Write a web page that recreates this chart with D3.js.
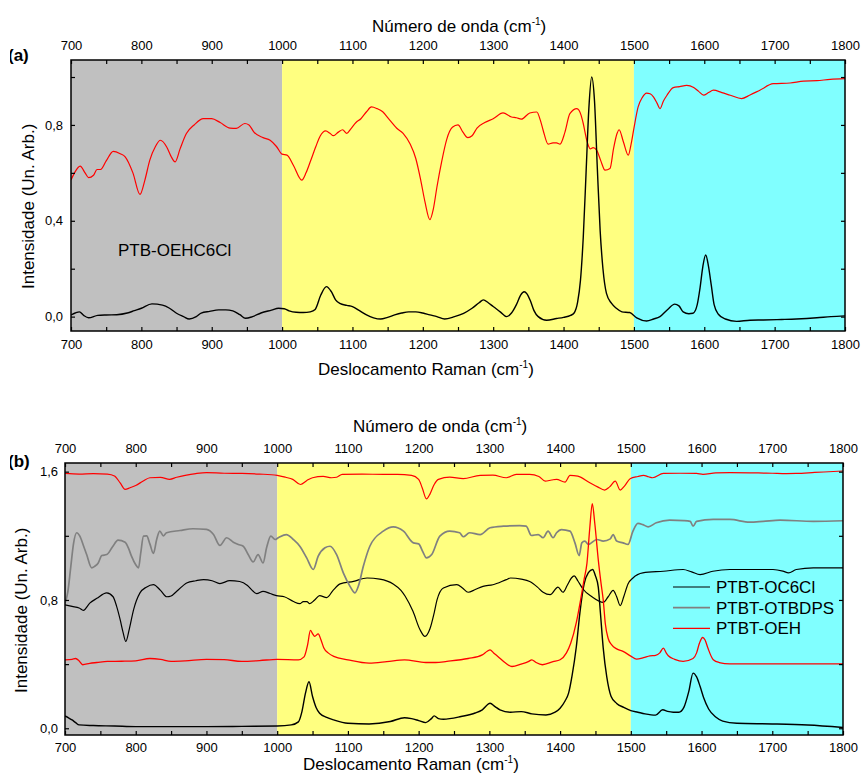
<!DOCTYPE html>
<html>
<head>
<meta charset="utf-8">
<script src="https://cdn.jsdelivr.net/npm/d3@7"></script>
<style>
  body { margin: 0; background: #fff; }
  svg { display: block; font-family: "Liberation Sans", Arial, sans-serif; }
</style>
</head>
<body>
<div id="graph"></div>
<script>
// ---- dados (número de onda, intensidade) ----

// painel (a) PTB-OEHC6Cl
var aReflexao = [[700,0.57],[705,0.60],[713,0.628],[720,0.60],[725,0.58],[732,0.59],[737,0.614],[742,0.614],[750,0.65],[760,0.69],[770,0.68],[777,0.667],[788,0.60],[798,0.51],[805,0.57],[812,0.653],[820,0.71],[827,0.736],[836,0.708],[842,0.67],[848,0.646],[855,0.70],[864,0.764],[875,0.80],[888,0.826],[900,0.826],[912,0.81],[926,0.787],[935,0.786],[947,0.806],[953,0.80],[960,0.77],[973,0.747],[983,0.736],[992,0.71],[1000,0.678],[1007,0.674],[1016,0.632],[1028,0.57],[1034,0.60],[1040,0.646],[1048,0.71],[1054,0.753],[1062,0.775],[1068,0.765],[1073,0.755],[1080,0.77],[1086,0.78],[1092,0.765],[1098,0.785],[1105,0.81],[1112,0.826],[1120,0.855],[1127,0.875],[1135,0.868],[1143,0.855],[1153,0.82],[1163,0.786],[1172,0.765],[1182,0.72],[1190,0.66],[1197,0.57],[1203,0.48],[1210,0.405],[1215,0.45],[1220,0.54],[1227,0.65],[1234,0.74],[1242,0.79],[1250,0.80],[1257,0.77],[1264,0.747],[1270,0.755],[1277,0.787],[1288,0.81],[1300,0.826],[1314,0.85],[1326,0.833],[1333,0.83],[1340,0.824],[1352,0.85],[1362,0.854],[1367,0.82],[1371,0.778],[1378,0.72],[1385,0.725],[1390,0.725],[1395,0.72],[1402,0.77],[1409,0.847],[1419,0.868],[1425,0.84],[1428,0.806],[1433,0.736],[1438,0.70],[1442,0.705],[1447,0.695],[1453,0.65],[1459,0.611],[1466,0.618],[1471,0.70],[1476,0.764],[1479,0.78],[1485,0.73],[1492,0.674],[1496,0.72],[1500,0.786],[1506,0.875],[1512,0.915],[1518,0.933],[1523,0.93],[1528,0.916],[1533,0.89],[1537,0.868],[1542,0.90],[1547,0.924],[1556,0.956],[1565,0.96],[1575,0.965],[1585,0.956],[1592,0.94],[1599,0.924],[1606,0.935],[1613,0.945],[1625,0.935],[1637,0.924],[1653,0.91],[1665,0.925],[1679,0.945],[1698,0.972],[1722,0.975],[1741,0.983],[1760,0.985],[1779,0.99],[1800,0.993]];

var aRaman = [[700,0.007],[706,0.015],[712,0.02],[718,0.005],[725,-0.005],[738,0.005],[750,0.007],[765,0.008],[780,0.015],[790,0.025],[800,0.035],[815,0.053],[830,0.048],[840,0.035],[850,0.014],[860,0.0],[868,-0.01],[878,0.0],[885,0.015],[897,0.022],[910,0.028],[920,0.028],[930,0.024],[940,0.008],[948,-0.007],[958,0.0],[970,0.015],[985,0.027],[995,0.035],[1003,0.033],[1010,0.024],[1020,0.018],[1030,0.017],[1040,0.02],[1047,0.03],[1055,0.09],[1063,0.125],[1070,0.104],[1076,0.07],[1082,0.055],[1092,0.047],[1100,0.042],[1110,0.025],[1120,0.007],[1130,-0.005],[1140,-0.01],[1150,-0.003],[1160,0.007],[1170,0.015],[1180,0.02],[1190,0.02],[1200,0.015],[1210,0.007],[1220,0.0],[1231,-0.01],[1245,0.0],[1258,0.014],[1270,0.035],[1280,0.058],[1286,0.07],[1293,0.058],[1300,0.042],[1310,0.02],[1319,0.0],[1326,0.015],[1333,0.05],[1339,0.09],[1344,0.104],[1348,0.095],[1353,0.065],[1358,0.025],[1364,0.0],[1376,-0.015],[1390,-0.008],[1400,-0.003],[1410,0.005],[1415,0.015],[1420,0.06],[1424,0.15],[1428,0.33],[1432,0.6],[1436,0.87],[1440,1.0],[1444,0.9],[1448,0.62],[1452,0.36],[1456,0.2],[1461,0.097],[1468,0.056],[1475,0.035],[1483,0.02],[1494,0.017],[1504,-0.005],[1518,-0.018],[1528,-0.01],[1537,0.0],[1548,0.03],[1558,0.052],[1564,0.045],[1570,0.02],[1578,0.012],[1584,0.014],[1590,0.05],[1594,0.12],[1598,0.21],[1602,0.257],[1606,0.21],[1610,0.13],[1614,0.05],[1620,0.01],[1630,-0.01],[1646,-0.02],[1665,-0.015],[1684,-0.014],[1710,-0.012],[1731,-0.01],[1760,-0.005],[1780,0.0],[1800,0.003]];

// painel (b)
var bOC6ClReflexao = [[700,0.77],[710,0.76],[720,0.75],[726,0.735],[735,0.78],[745,0.81],[759,0.844],[768,0.82],[773,0.76],[778,0.677],[782,0.6],[786,0.541],[791,0.62],[797,0.74],[806,0.844],[815,0.88],[825,0.896],[835,0.86],[844,0.82],[850,0.825],[858,0.854],[872,0.906],[885,0.92],[896,0.927],[908,0.92],[919,0.902],[933,0.92],[947,0.915],[958,0.89],[966,0.854],[971,0.839],[980,0.854],[990,0.84],[999,0.827],[1010,0.82],[1023,0.79],[1032,0.777],[1037,0.79],[1042,0.79],[1046,0.777],[1053,0.80],[1060,0.827],[1070,0.815],[1079,0.86],[1089,0.9],[1108,0.916],[1127,0.937],[1145,0.93],[1164,0.9],[1175,0.86],[1181,0.823],[1192,0.729],[1202,0.614],[1209,0.573],[1216,0.62],[1222,0.72],[1226,0.8],[1235,0.875],[1254,0.896],[1262,0.875],[1270,0.848],[1280,0.865],[1291,0.885],[1305,0.895],[1324,0.927],[1330,0.937],[1345,0.93],[1357,0.915],[1368,0.88],[1376,0.848],[1386,0.833],[1397,0.88],[1404,0.848],[1410,0.89],[1416,0.937],[1420,0.95],[1425,0.92],[1432,0.87],[1445,0.82],[1461,0.785],[1468,0.82],[1475,0.86],[1480,0.82],[1485,0.765],[1490,0.82],[1496,0.9],[1503,0.937],[1517,0.969],[1546,0.979],[1574,0.99],[1586,0.975],[1598,0.958],[1616,0.979],[1640,0.99],[1664,0.99],[1701,0.99],[1715,0.98],[1723,0.969],[1734,0.99],[1758,1.0],[1800,1.0]];

var bOC6ClRaman = [[700,0.077],[705,0.065],[710,0.052],[715,0.035],[720,0.021],[740,0.017],[770,0.014],[800,0.01],[850,0.01],[900,0.01],[950,0.012],[1000,0.014],[1020,0.021],[1030,0.04],[1035,0.104],[1040,0.219],[1045,0.29],[1050,0.198],[1055,0.13],[1060,0.094],[1070,0.068],[1080,0.052],[1100,0.031],[1130,0.027],[1160,0.042],[1180,0.066],[1190,0.06],[1200,0.048],[1210,0.035],[1218,0.06],[1222,0.077],[1228,0.06],[1235,0.056],[1260,0.073],[1280,0.095],[1290,0.115],[1301,0.156],[1308,0.135],[1315,0.115],[1330,0.1],[1345,0.104],[1360,0.09],[1380,0.083],[1393,0.1],[1400,0.125],[1407,0.17],[1412,0.219],[1417,0.33],[1423,0.51],[1428,0.72],[1434,0.9],[1440,0.97],[1446,0.99],[1450,0.95],[1454,0.88],[1457,0.72],[1461,0.5],[1466,0.32],[1472,0.2],[1480,0.155],[1490,0.13],[1500,0.11],[1510,0.1],[1520,0.09],[1535,0.082],[1545,0.115],[1552,0.105],[1560,0.1],[1568,0.1],[1575,0.13],[1582,0.23],[1588,0.344],[1593,0.32],[1598,0.26],[1603,0.19],[1610,0.12],[1620,0.07],[1630,0.045],[1650,0.031],[1700,0.027],[1750,0.02],[1800,0.005]];

var bOTBDPS = [[700,0.78],[704,0.85],[708,1.0],[712,1.15],[716.5,1.219],[721,1.198],[726,1.14],[730.6,1.083],[737.7,1.0],[742,1.01],[747,1.031],[752,1.077],[759,1.083],[767,1.13],[775,1.173],[785,1.16],[790,1.12],[794,1.073],[800,1.02],[804,1.0],[807,1.09],[811,1.198],[815.5,1.2],[820,1.15],[825,1.09],[829.6,1.177],[834,1.229],[839,1.2],[843.6,1.219],[862.6,1.233],[881,1.244],[900,1.24],[910,1.208],[919,1.14],[928.6,1.188],[938,1.16],[945,1.146],[952,1.135],[959,1.083],[966,1.037],[973,1.083],[980,1.031],[985,1.125],[991,1.198],[997,1.177],[1001.6,1.188],[1013,1.208],[1022.8,1.177],[1032,1.135],[1041.7,1.062],[1051,0.99],[1058,1.073],[1067.6,1.125],[1074.7,1.135],[1084,1.083],[1093.5,0.969],[1103,0.885],[1110,0.844],[1114.7,0.885],[1121.8,1.01],[1131,1.135],[1150,1.229],[1164,1.256],[1178.6,1.229],[1192.7,1.156],[1200,1.15],[1206,1.10],[1211,1.062],[1218.5,1.083],[1230,1.198],[1244,1.229],[1258,1.219],[1263,1.194],[1272,1.219],[1287,1.208],[1301,1.25],[1320,1.26],[1343,1.264],[1352,1.26],[1359.5,1.202],[1369,1.208],[1376,1.188],[1383,1.229],[1390,1.188],[1395,1.219],[1402,1.239],[1414,1.229],[1421,1.156],[1427,1.077],[1430.7,1.156],[1435,1.167],[1440,1.146],[1452,1.177],[1461,1.167],[1471,1.181],[1475,1.208],[1480,1.167],[1489,1.156],[1496,1.146],[1503,1.229],[1510,1.277],[1517,1.27],[1524.5,1.256],[1536,1.281],[1555,1.298],[1575,1.295],[1584,1.29],[1588,1.26],[1593,1.29],[1616.5,1.302],[1640,1.302],[1668,1.285],[1687,1.29],[1711,1.298],[1758,1.29],[1800,1.294]];

var bOEHReflexao = [[700,1.589],[720,1.585],[740,1.588],[760,1.585],[770,1.573],[778,1.53],[785,1.489],[792,1.50],[800,1.514],[810,1.54],[820,1.562],[835,1.564],[848,1.552],[858,1.565],[870,1.577],[885,1.588],[900,1.594],[925,1.59],[950,1.589],[975,1.585],[1000,1.577],[1012,1.565],[1022,1.552],[1033,1.52],[1042,1.545],[1050,1.562],[1065,1.57],[1077,1.562],[1084,1.565],[1092,1.583],[1120,1.585],[1150,1.583],[1170,1.583],[1190,1.577],[1200,1.552],[1205,1.50],[1211,1.43],[1216,1.46],[1222,1.52],[1228,1.552],[1244,1.566],[1263,1.556],[1287,1.577],[1305,1.578],[1324,1.562],[1338,1.583],[1357,1.583],[1370,1.57],[1379,1.541],[1388,1.548],[1395,1.552],[1407,1.535],[1414,1.577],[1425,1.572],[1442,1.531],[1453,1.505],[1463,1.485],[1470,1.505],[1478,1.541],[1485,1.485],[1491,1.51],[1499,1.556],[1510,1.57],[1518,1.577],[1525,1.568],[1531,1.562],[1546,1.589],[1570,1.59],[1593,1.589],[1602,1.583],[1620,1.592],[1640,1.594],[1680,1.592],[1700,1.59],[1720,1.588],[1734,1.589],[1760,1.595],[1800,1.604]];

var bOEHRaman = [[700,0.427],[710,0.43],[715,0.435],[720,0.42],[725,0.396],[735,0.405],[745,0.41],[760,0.417],[780,0.418],[800,0.42],[820,0.435],[835,0.43],[850,0.417],[870,0.42],[900,0.43],[925,0.428],[950,0.417],[975,0.422],[1000,0.43],[1030,0.427],[1038,0.445],[1043,0.52],[1047,0.61],[1050,0.59],[1053,0.573],[1058,0.589],[1062,0.55],[1066,0.5],[1072,0.47],[1080,0.448],[1100,0.427],[1130,0.406],[1155,0.415],[1180,0.427],[1210,0.41],[1224,0.41],[1240,0.417],[1270,0.435],[1290,0.458],[1297,0.48],[1301,0.489],[1306,0.47],[1312,0.448],[1322,0.41],[1332,0.385],[1345,0.4],[1355,0.415],[1360,0.427],[1366,0.41],[1375,0.396],[1390,0.415],[1400,0.427],[1409,0.47],[1415,0.53],[1423,0.66],[1429,0.8],[1434,0.93],[1438,1.03],[1442,1.25],[1445.5,1.40],[1449,1.28],[1454,1.05],[1458,0.9],[1461,0.8],[1464,0.65],[1468,0.56],[1473,0.52],[1480,0.495],[1489,0.479],[1500,0.45],[1508,0.431],[1518,0.44],[1527,0.452],[1535,0.455],[1541,0.47],[1546,0.5],[1550,0.47],[1553,0.452],[1562,0.43],[1574,0.417],[1588,0.435],[1593,0.47],[1597,0.53],[1601.5,0.566],[1605,0.55],[1609,0.5],[1616.6,0.427],[1625,0.41],[1640,0.402],[1687,0.402],[1740,0.402],[1800,0.402]];

// regiões coloridas e eixos
var limitesRegioes = [700, 1000, 1500, 1800];
var coresRegioes = ["#c0c0c0", "#ffff80", "#80ffff"];
var ticksX = [700, 800, 900, 1000, 1100, 1200, 1300, 1400, 1500, 1600, 1700, 1800];
var ticksXMenor = [750, 850, 950, 1050, 1150, 1250, 1350, 1450, 1550, 1650, 1750];
var ticksYa = [0, 0.4, 0.8];
var ticksYaMenor = [0.2, 0.6, 1.0];
var ticksYb = [0, 0.8, 1.6];
var ticksYbMenor = [0.4, 1.2];
var legendaNomes = ["PTBT-OC6Cl", "PTBT-OTBDPS", "PTBT-OEH"];
var legendaCores = ["#000000", "#808080", "#ff0000"];

const largura = 861, altura = 775;
const fmtY = v => d3.format(".1f")(v).replace(".", ",");

const svg = d3.select("#graph").append("svg")
    .attr("width", largura)
    .attr("height", altura);

svg.append("rect").attr("width", largura).attr("height", altura).attr("fill", "#fff");

/**
 * Desenha um painel completo (fundo, curvas, eixos, títulos).
 */
function desenharPainel(p) {
    const x = d3.scaleLinear().domain([700, 1800]).range([p.esq, p.dir]);
    const y = d3.scaleLinear().domain(p.dominioY).range([p.baixo, p.topo]);
    const g = svg.append("g");

    // fundos
    g.selectAll("rect.regiao")
        .data(coresRegioes)
        .enter().append("rect")
        .attr("class", "regiao")
        .attr("x", (d, i) => x(limitesRegioes[i]))
        .attr("y", p.topo)
        .attr("width", (d, i) => x(limitesRegioes[i + 1]) - x(limitesRegioes[i]))
        .attr("height", p.baixo - p.topo)
        .attr("fill", d => d);

    const clipId = "clip" + p.id;
    svg.append("clipPath").attr("id", clipId)
        .append("rect")
        .attr("x", p.esq).attr("y", p.topo)
        .attr("width", p.dir - p.esq).attr("height", p.baixo - p.topo);

    const linha = d3.line()
        .x(d => x(d[0]))
        .y(d => y(d[1]))
        .curve(d3.curveMonotoneX);

    g.append("g").attr("clip-path", "url(#" + clipId + ")")
        .selectAll("path")
        .data(p.series)
        .enter().append("path")
        .attr("d", d => linha(d.dados))
        .attr("fill", "none")
        .attr("stroke", d => d.cor)
        .attr("stroke-width", d => d.espessura || 1.2)
        .attr("stroke-linejoin", "round");

    // eixos (marcas para dentro)
    function eixo(gerador, transf, valores, rotulo, pad) {
        const a = g.append("g")
            .attr("transform", transf)
            .call(gerador.tickValues(valores).tickSize(-4).tickPadding(pad)
                .tickFormat(rotulo ? rotulo : () => ""));
        a.select(".domain").remove();
        a.selectAll("line").attr("stroke", "#000").attr("stroke-width", 1.2);
        a.selectAll("text").attr("font-size", 13).attr("fill", "#000")
            .attr("font-family", "'Liberation Sans', Arial, sans-serif");
    }
    eixo(d3.axisBottom(x), `translate(0,${p.baixo})`, ticksX, d3.format("d"), p.padX);
    eixo(d3.axisBottom(x), `translate(0,${p.baixo})`, ticksXMenor, null, 0);
    eixo(d3.axisTop(x), `translate(0,${p.topo})`, ticksX, d3.format("d"), p.padXTopo);
    eixo(d3.axisTop(x), `translate(0,${p.topo})`, ticksXMenor, null, 0);
    eixo(d3.axisLeft(y), `translate(${p.esq},0)`, p.ticksY, fmtY, p.padY);
    eixo(d3.axisLeft(y), `translate(${p.esq},0)`, p.ticksYMenor, null, 0);
    eixo(d3.axisRight(y), `translate(${p.dir},0)`, p.ticksY.concat(p.ticksYMenor), null, 0);

    g.append("rect")
        .attr("x", p.esq).attr("y", p.topo)
        .attr("width", p.dir - p.esq).attr("height", p.baixo - p.topo)
        .attr("fill", "none").attr("stroke", "#000").attr("stroke-width", 1.5);

    // títulos com sobrescrito
    function tituloCm(txt, xx, yy) {
        const t = svg.append("text").attr("x", xx).attr("y", yy)
            .attr("font-size", 17).attr("fill", "#000");
        t.append("tspan").text(txt + " (cm");
        t.append("tspan").attr("dy", -7).attr("font-size", 10).text("-1");
        t.append("tspan").attr("dy", 7).text(")");
    }
    tituloCm("Número de onda", p.xTituloTopo, p.yTituloTopo);
    tituloCm("Deslocamento Raman", p.xTituloBaixo, p.yTituloBaixo);

    svg.append("text")
        .attr("transform", `translate(${p.xTituloY},${p.yTituloY}) rotate(-90)`)
        .attr("font-size", 17).attr("fill", "#000")
        .text("Intensidade (Un. Arb.)");

    svg.append("text")
        .attr("x", 8).attr("y", p.yLetra)
        .attr("font-size", 17).attr("font-weight", "bold").attr("fill", "#000")
        .text(p.letra);
    svg.append("rect").attr("x", 0).attr("y", p.yLetra - 16).attr("width", 10).attr("height", 22).attr("fill", "#fff");

    return { x: x, y: y };
}

desenharPainel({
    id: "a", esq: 71, dir: 845, topo: 60, baixo: 331,
    dominioY: [-0.06, 1.071],
    ticksY: ticksYa, ticksYMenor: ticksYaMenor,
    padX: 9, padXTopo: 10, padY: 8,
    series: [
        { dados: aReflexao, cor: "#ff0000" },
        { dados: aRaman, cor: "#000000", espessura: 1.4 }
    ],
    xTituloTopo: 372, yTituloTopo: 32,
    xTituloBaixo: 318, yTituloBaixo: 375,
    xTituloY: 34, yTituloY: 289,
    letra: "(a)", yLetra: 61
});

desenharPainel({
    id: "b", esq: 65, dir: 843, topo: 463, baixo: 735,
    dominioY: [-0.042, 1.654],
    ticksY: ticksYb, ticksYMenor: ticksYbMenor,
    padX: 8, padXTopo: 10, padY: 7,
    series: [
        { dados: bOC6ClReflexao, cor: "#000000" },
        { dados: bOC6ClRaman, cor: "#000000", espessura: 1.4 },
        { dados: bOTBDPS, cor: "#808080", espessura: 1.7 },
        { dados: bOEHReflexao, cor: "#ff0000" },
        { dados: bOEHRaman, cor: "#ff0000", espessura: 1.3 }
    ],
    xTituloTopo: 353, yTituloTopo: 432,
    xTituloBaixo: 303, yTituloBaixo: 770,
    xTituloY: 27, yTituloY: 693,
    letra: "(b)", yLetra: 467
});

// rótulo do painel (a)
svg.append("text")
    .attr("x", 118).attr("y", 256)
    .attr("font-size", 17).attr("fill", "#000")
    .text("PTB-OEHC6Cl");

// legenda do painel (b)
const leg = svg.append("g").selectAll("g")
    .data(legendaNomes)
    .enter().append("g")
    .attr("transform", (d, i) => `translate(673,${587 + i * 20.7})`);
leg.append("line").attr("x1", 0).attr("x2", 37)
    .attr("stroke", (d, i) => legendaCores[i]).attr("stroke-width", (d, i) => i == 1 ? 1.7 : 1.2);
leg.append("text").attr("x", 43).attr("y", 6)
    .attr("font-size", 17).attr("fill", "#000")
    .text(d => d);
</script>
</body>
</html>
